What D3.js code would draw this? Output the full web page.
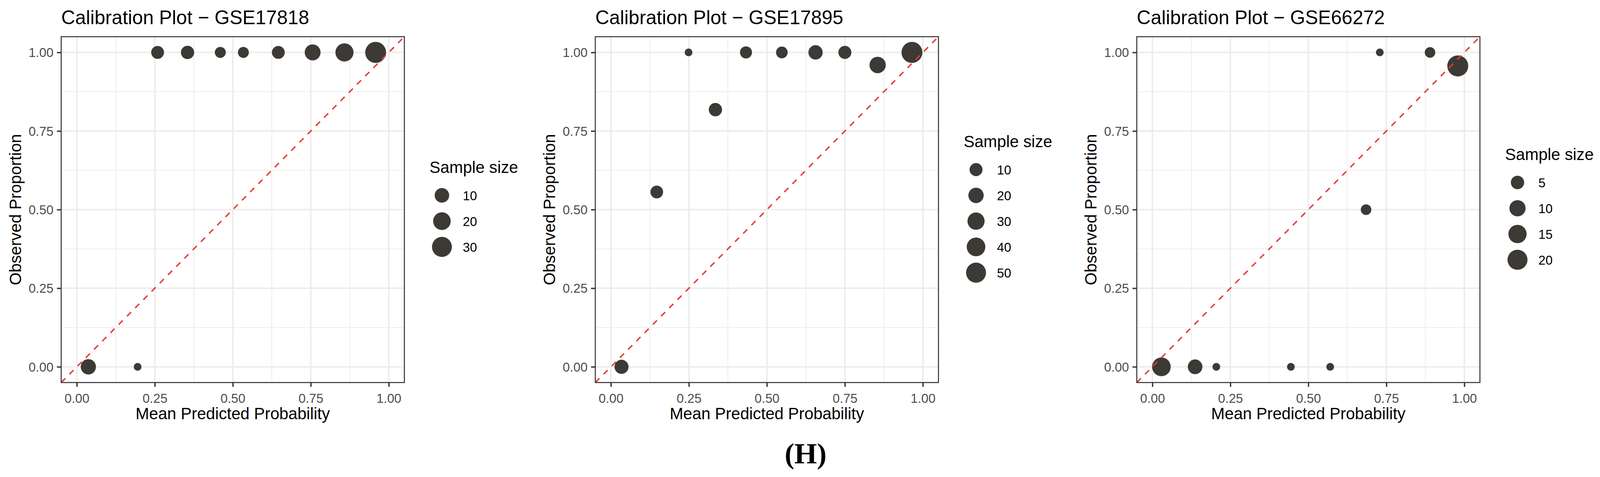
<!DOCTYPE html>
<html>
<head>
<meta charset="utf-8">
<script src="https://cdn.jsdelivr.net/npm/d3@7"></script>
<style>
  html, body { margin: 0; padding: 0; background: #fff; overflow: hidden; }
  svg { display: block; width: 100vw; height: 100vh; }
  text { font-family: "Liberation Sans", Arial, sans-serif; }
</style>
</head>
<body>
<svg id="chart" viewBox="0 0 4131 1222" preserveAspectRatio="none"></svg>
<script>
// panel titles
var titles = ["Calibration Plot \u2212 GSE17818", "Calibration Plot \u2212 GSE17895", "Calibration Plot \u2212 GSE66272"];

// GSE17818
var pred1 = [0.037, 0.195, 0.259, 0.355, 0.460, 0.534, 0.646, 0.756, 0.858, 0.958];
var obs1  = [0, 0, 1, 1, 1, 1, 1, 1, 1, 1];
var n1    = [12, 1, 6, 7, 3, 3, 6, 14, 22, 35];
var breaks1 = [10, 20, 30];

// GSE17895
var pred2 = [0.034, 0.147, 0.249, 0.335, 0.433, 0.548, 0.656, 0.750, 0.855, 0.965];
var obs2  = [0, 0.556, 1, 0.818, 1, 1, 1, 1, 0.96, 1];
var n2    = [14, 9, 1, 11, 7, 6, 15, 10, 25, 58];
var breaks2 = [10, 20, 30, 40, 50];

// GSE66272
var pred3 = [0.029, 0.137, 0.205, 0.444, 0.570, 0.685, 0.729, 0.890, 0.979];
var obs3  = [0, 0, 0, 0, 0, 0.5, 1, 1, 0.957];
var n3    = [16, 7, 1, 1, 1, 2, 1, 2, 23];
var breaks3 = [5, 10, 15, 20];

var majorTicks = [0, 0.25, 0.5, 0.75, 1];
var minorTicks = [0.125, 0.375, 0.625, 0.875];

var panels = [
  {title: titles[0], pred: pred1, obs: obs1, n: n1, breaks: breaks1, left: 158},
  {title: titles[1], pred: pred2, obs: obs2, n: n2, breaks: breaks2, left: 1537},
  {title: titles[2], pred: pred3, obs: obs3, n: n3, breaks: breaks3, left: 2935}
];

var svg = d3.select("#chart");
var W = 4131;
var top0 = 94, size = 886;
var pointColor = "#3d3935", lineColor = "#e53a35";
var fmt = d3.format(".2f");

panels.forEach(function(p, i) {
  var x = d3.scaleLinear().domain([-0.05, 1.05]).range([p.left, p.left + size]);
  var y = d3.scaleLinear().domain([-0.05, 1.05]).range([top0 + size, top0]);
  var nmin = d3.min(p.n), nmax = d3.max(p.n);
  // ggplot-like area scale: rescale to 0..1, sqrt, map to diameter range
  var diam = d3.scaleSqrt().domain([0, nmax - nmin]).range([20, 54]);
  var r = function(v) { return diam(v - nmin) / 2; };

  var g = svg.append("g");
  var data = p.pred.map(function(d, j) { return {x: d, y: p.obs[j], n: p.n[j]}; });

  g.append("defs").append("clipPath").attr("id", "clip" + i)
    .append("rect").attr("x", p.left).attr("y", top0).attr("width", size).attr("height", size);

  // grid
  var grid = g.append("g");
  grid.selectAll(".minx").data(minorTicks).enter().append("line")
    .attr("x1", d => x(d)).attr("x2", d => x(d)).attr("y1", top0).attr("y2", top0 + size)
    .attr("stroke", "#ebebeb").attr("stroke-width", 1.8);
  grid.selectAll(".miny").data(minorTicks).enter().append("line")
    .attr("y1", d => y(d)).attr("y2", d => y(d)).attr("x1", p.left).attr("x2", p.left + size)
    .attr("stroke", "#ebebeb").attr("stroke-width", 1.8);
  grid.selectAll(".majx").data(majorTicks).enter().append("line")
    .attr("x1", d => x(d)).attr("x2", d => x(d)).attr("y1", top0).attr("y2", top0 + size)
    .attr("stroke", "#ebebeb").attr("stroke-width", 3.6);
  grid.selectAll(".majy").data(majorTicks).enter().append("line")
    .attr("y1", d => y(d)).attr("y2", d => y(d)).attr("x1", p.left).attr("x2", p.left + size)
    .attr("stroke", "#ebebeb").attr("stroke-width", 3.6);

  // points
  g.append("g").selectAll("circle").data(data).enter().append("circle")
    .attr("cx", d => x(d.x)).attr("cy", d => y(d.y)).attr("r", d => r(d.n))
    .attr("fill", pointColor);

  // reference line y = x
  g.append("line")
    .attr("clip-path", "url(#clip" + i + ")")
    .attr("x1", x(-0.05)).attr("y1", y(-0.05)).attr("x2", x(1.05)).attr("y2", y(1.05))
    .attr("stroke", lineColor).attr("stroke-width", 3.6).attr("stroke-dasharray", "15,15");

  // border
  g.append("rect").attr("x", p.left).attr("y", top0).attr("width", size).attr("height", size)
    .attr("fill", "none").attr("stroke", "#333").attr("stroke-width", 2.6);

  // axes
  var ax = g.append("g").attr("transform", "translate(0," + (top0 + size) + ")")
    .call(d3.axisBottom(x).tickValues(majorTicks).tickFormat(fmt).tickSize(11).tickPadding(10));
  var ay = g.append("g").attr("transform", "translate(" + p.left + ",0)")
    .call(d3.axisLeft(y).tickValues(majorTicks).tickFormat(fmt).tickSize(11).tickPadding(9));
  [ax, ay].forEach(function(a) {
    a.select(".domain").remove();
    a.selectAll(".tick line").attr("stroke", "#333").attr("stroke-width", 3.4);
    a.selectAll(".tick text").attr("fill", "#4d4d4d").style("font-size", "33px")
      .style("font-family", "'Liberation Sans', Arial, sans-serif");
  });
  ax.selectAll(".tick text").attr("dy", "0.95em");
  ay.selectAll(".tick text").attr("dy", "0.35em");

  // titles
  g.append("text").attr("x", p.left).attr("y", 62).style("font-size", "50px").attr("fill", "#000")
    .text(p.title);
  g.append("text").attr("x", p.left + size / 2).attr("y", 1074).attr("text-anchor", "middle")
    .style("font-size", "42px").attr("fill", "#000").text("Mean Predicted Probability");
  g.append("text").attr("transform", "translate(" + (p.left - 104) + "," + (top0 + size / 2) + ") rotate(-90)")
    .attr("text-anchor", "middle").style("font-size", "42px").attr("fill", "#000")
    .text("Observed Proportion");

  // legend
  var k = p.breaks.length;
  var legTop = (top0 + size / 2) - (125 + (k - 1) * 66) / 2;
  var lx = p.left + size;
  var leg = g.append("g");
  var lt = leg.append("text").attr("x", lx + 65).attr("y", legTop + 21 + 14)
    .style("font-size", "42px").attr("fill", "#000").text("Sample size");
  // keep the title inside the page if the font runs a bit wide
  var over = lx + 65 + lt.node().getComputedTextLength() - (W - 10);
  if (over > 0) lt.attr("x", lx + 65 - over);
  var items = leg.selectAll(".key").data(p.breaks).enter().append("g")
    .attr("transform", (d, j) => "translate(0," + (legTop + 21 + 71 + j * 66) + ")");
  items.append("circle").attr("cx", lx + 97).attr("cy", 0).attr("r", d => r(d)).attr("fill", pointColor);
  items.append("text").attr("x", lx + 151).attr("y", 12).style("font-size", "33px")
    .attr("fill", "#000").text(d => d);
});

svg.append("text").attr("x", 2080).attr("y", 1187).attr("text-anchor", "middle")
  .style("font-family", "'Liberation Serif', 'Times New Roman', serif")
  .style("font-size", "75px").style("font-weight", "bold").attr("fill", "#000").text("(H)");
</script>
</body>
</html>
